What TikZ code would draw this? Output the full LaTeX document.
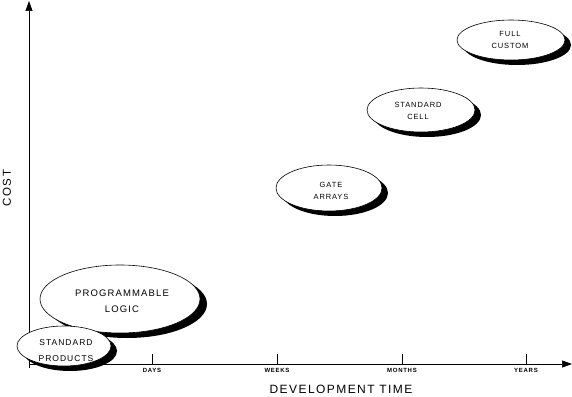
\documentclass[tikz,border=0pt]{standalone}
\usepackage{fontspec}
\setmainfont{Liberation Sans}
\newfontfamily\spaced[LetterSpace=12]{Liberation Sans}
\usetikzlibrary{arrows.meta}
\begin{document}
\begin{tikzpicture}[x=1pt,y=-1pt,
  blob/.style={draw=black,fill=white,line width=0.6pt},
  shade/.style={fill=black},
  lbl/.style={font=\spaced\fontsize{7.5}{12}\selectfont,align=center},
  tick/.style={font=\spaced\bfseries\fontsize{6}{7}\selectfont},
  axis/.style={line width=0.7pt,-{Triangle[length=10pt,width=7pt]}}]
\useasboundingbox (0,0) rectangle (572,396);
% axes
\coordinate (o) at (29,364);
\coordinate (ytop) at (29,1);
\coordinate (xend) at (572,364);
\draw[axis] (29,368) -- (ytop);
\draw[axis] (29,364) -- (xend);
% ticks
\foreach \x/\t/\n in {152/DAYS/d,277/WEEKS/w,402/MONTHS/m,526/YEARS/y}{
  \coordinate (t\n) at (\x,364);
  \draw[line width=0.6pt] (t\n) -- ++(0,-10);
  \node[tick] at (\x,370.5) {\t};
}
\node[font=\spaced\fontsize{12}{14}\selectfont] (xl) at (341,389) {DEVELOPMENT TIME};
\node[font=\spaced\fontsize{11.5}{14}\selectfont,rotate=90] (yl) at (7,188) {COST};
% ellipses
\fill[shade] (127,304) ellipse [x radius=80, y radius=34];
\draw[blob] (120,299) ellipse [x radius=80, y radius=34];
\node[lbl,font=\spaced\fontsize{9.5}{16}\selectfont] (pl) at (122,301) {PROGRAMMABLE\\LOGIC};
\fill[shade] (70,351) ellipse [x radius=47, y radius=20];
\draw[blob] (64,346) ellipse [x radius=47, y radius=20];
\node[lbl,font=\spaced\fontsize{8.5}{16}\selectfont] (sp) at (66,351) {STANDARD\\PRODUCTS};
\fill[shade] (335,193) ellipse [x radius=53, y radius=23];
\draw[blob] (329,188) ellipse [x radius=53, y radius=23];
\node[lbl] (ga) at (331,190.5) {GATE\\ARRAYS};
\fill[shade] (427,115) ellipse [x radius=54, y radius=22];
\draw[blob] (421,110) ellipse [x radius=54, y radius=22];
\node[lbl] (sc) at (418,110.5) {STANDARD\\CELL};
\fill[shade] (517,45) ellipse [x radius=54, y radius=20];
\draw[blob] (511,40) ellipse [x radius=54, y radius=20];
\node[lbl] (fc) at (510,39.5) {FULL\\CUSTOM};
\end{tikzpicture}
\end{document}
